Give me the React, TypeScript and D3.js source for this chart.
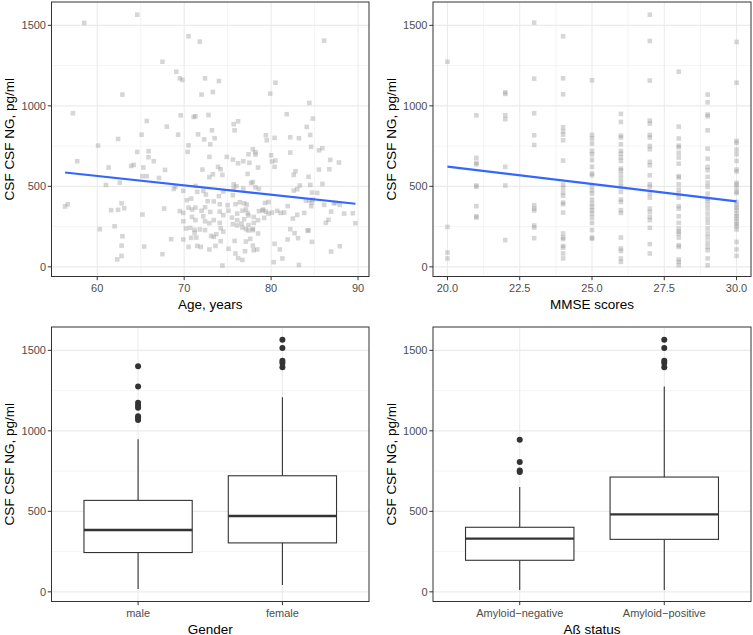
import React from 'react';
import * as d3 from 'd3';

// ---------- DATA ----------
// [age, CSF NG]
const ageData: [number, number][] = [
  [58.5,1515],[64.6,1566],[70.5,1432],[71.8,1399],[86.1,1405],[67.5,1274],[69.1,1212],[69.5,1171],[69.8,1161],
  [72.4,1171],[74.0,1154],[80.5,1144],[72.0,1070],[73.3,1086],[62.9,1070],[79.9,1076],[84.4,1018],[57.2,954],
  [71.3,935],[71.1,931],[72.8,943],[69.6,941],[65.7,906],[76.2,904],[75.7,886],[81.8,948],[84.8,921],[68.0,871],
  [84.1,869],[75.8,848],[73.2,848],[65.1,821],[69.3,821],[71.6,823],[72.3,792],[73.5,799],[73.0,761],[62.4,794],
  [79.4,817],[79.5,786],[80.4,801],[82.2,805],[83.2,799],[84.5,819],[60.1,753],[70.5,755],[77.9,730],[78.2,712],
  [78.2,697],[84.6,745],[85.9,737],[85.5,724],[80.0,693],[82.2,710],[64.6,714],[70.4,714],[65.9,718],[72.9,683],
  [74.9,683],[77.4,699],[65.9,681],[66.5,656],[57.7,656],[76.8,656],[75.6,666],[76.2,643],[77.5,646],[78.5,617],
  [80.1,654],[80.5,660],[86.8,664],[87.8,648],[86.7,606],[85.5,604],[80.4,621],[63.9,627],[64.2,633],[61.3,617],
  [65.3,617],[73.9,621],[74.2,606],[72.1,604],[67.8,602],[82.8,594],[82.6,571],[84.3,559],[74.4,571],[72.9,557],
  [73.3,575],[77.3,577],[65.2,563],[65.7,563],[67.1,552],[77.7,521],[77.9,526],[78.2,494],[85.9,515],[84.5,509],
  [83.3,505],[61.0,509],[62.6,523],[69.0,497],[68.8,484],[71.3,503],[72.2,472],[74.5,468],[75.7,484],[75.7,513],
  [76.0,501],[76.8,486],[78.6,484],[75.6,445],[82.6,474],[83.0,482],[84.7,461],[85.3,459],[72.5,449],[74.0,439],
  [69.9,472],[71.5,466],[70.8,424],[70.3,414],[72.7,408],[73.4,406],[74.1,389],[75.0,383],[75.9,389],[76.4,401],
  [76.9,395],[77.2,387],[79.3,397],[79.7,403],[84.0,412],[84.4,412],[84.6,377],[84.7,399],[84.8,418],[87.2,395],
  [87.4,397],[87.9,385],[86.1,385],[81.9,377],[56.6,389],[56.3,375],[61.6,352],[62.4,354],[63.1,364],[62.8,395],
  [67.7,362],[70.5,368],[70.9,356],[71.3,368],[72.0,348],[72.4,370],[73.0,341],[74.1,343],[75.1,348],[76.1,331],
  [76.7,348],[77.1,356],[77.3,333],[78.6,346],[79.0,350],[79.1,356],[79.4,343],[79.7,331],[80.1,337],[80.7,348],
  [81.1,335],[81.5,337],[83.0,323],[83.8,335],[86.9,343],[89.4,333],[88.4,331],[65.2,325],[69.5,346],[69.9,335],
  [74.5,321],[72.2,314],[75.5,306],[76.1,290],[76.9,296],[77.4,319],[78.0,310],[78.5,290],[79.2,304],[70.9,310],
  [71.3,290],[72.4,283],[73.4,290],[72.9,271],[74.1,273],[75.6,265],[76.1,257],[76.6,269],[77.4,259],[78.0,273],
  [69.9,283],[70.2,238],[70.7,242],[71.2,230],[71.8,232],[72.4,228],[74.2,240],[74.5,219],[76.7,244],[77.1,234],
  [77.4,226],[77.9,228],[82.2,234],[84.2,226],[86.3,273],[89.7,271],[86.6,292],[82.5,300],[60.3,234],[62.0,252],
  [62.9,190],[62.8,132],[62.8,68],[62.3,46],[65.4,126],[67.5,79],[68.5,172],[69.9,170],[70.5,124],[70.8,180],
  [71.2,211],[71.5,130],[71.9,124],[71.4,182],[73.1,192],[73.4,186],[72.9,108],[73.6,130],[75.1,112],[75.8,161],
  [75.9,83],[76.2,54],[76.7,43],[77.0,97],[77.1,157],[77.6,174],[77.9,132],[78.0,103],[78.4,108],[78.5,207],
  [77.9,236],[74.4,8],[80.3,29],[80.4,143],[81.0,108],[81.3,52],[81.9,170],[82.7,209],[83.1,178],[83.2,12],
  [84.7,155],[86.9,95],[87.9,128],[84.3,226],[74.2,159],[73.7,203]
];

// MMSE score -> CSF NG values
const mmseScores = [20, 21, 22, 23, 24, 25, 26, 27, 28, 29, 30];
const mmseValues: number[][] = [
  [1274, 248, 89, 52],
  [941, 677, 646, 637, 505, 497, 377, 314, 306],
  [1084, 1074, 941, 917, 621, 505, 166],
  [1517, 1169, 954, 817, 757, 383, 362, 350, 257, 244, 178],
  [1432, 1171, 1072, 867, 842, 821, 786, 660, 511, 490, 461, 441, 399, 389, 337, 207, 182, 172, 130, 120, 83, 52],
  [1159, 819, 797, 766, 720, 699, 664, 621, 579, 569, 501, 476, 455, 418, 393, 372, 352, 331, 306, 273, 228, 182, 174],
  [950, 900, 815, 803, 761, 720, 703, 679, 658, 610, 600, 575, 548, 521, 497, 466, 418, 403, 352, 335, 182, 114, 99, 52, 31],
  [1566, 1403, 1157, 908, 890, 819, 803, 751, 730, 652, 631, 569, 513, 497, 455, 430, 362, 341, 310, 290, 242, 141, 83],
  [1212, 871, 797, 753, 743, 708, 679, 641, 563, 555, 513, 480, 455, 430, 377, 362, 314, 273, 238, 219, 207, 182, 134, 124, 46, 31, 10],
  [1070, 1022, 946, 935, 848, 734, 672, 621, 600, 559, 523, 497, 455, 424, 414, 389, 362, 331, 300, 273, 238, 207, 182, 151, 124, 103, 52, 10],
  [1397, 1144, 782, 770, 728, 699, 658, 604, 592, 521, 511, 492, 466, 459, 403, 383, 368, 352, 331, 314, 300, 281, 265, 252, 232, 155, 108, 68]
];

// linear fits: [x, y] at ends of data range
const ageFit: [number, number][] = [[56.3, 586], [89.7, 392]];
const mmseFit: [number, number][] = [[20, 623], [30, 407]];

// Box plots
const genderCats = ['male', 'female'];
const genderBoxes = [
  { lower: 17, q1: 244, median: 384, q3: 568, upper: 948, outliers: [1401, 1275, 1174, 1157, 1143, 1091, 1081, 1068] },
  { lower: 43, q1: 304, median: 471, q3: 721, upper: 1209, outliers: [1566, 1514, 1436, 1421, 1395] }
];
const amyloidCats = ['Amyloid\u2212negative', 'Amyloid\u2212positive'];
const amyloidBoxes = [
  { lower: 12, q1: 196, median: 331, q3: 401, upper: 651, outliers: [944, 806, 754, 744] },
  { lower: 12, q1: 326, median: 481, q3: 713, upper: 1275, outliers: [1566, 1514, 1436, 1421, 1395] }
];

const yTicks = [0, 500, 1000, 1500];
const yMinor = [250, 750, 1250];
const ageTicks = [60, 70, 80, 90];
const ageMinor = [65, 75, 85];
const mmseTicks = [20, 22.5, 25, 27.5, 30];
const mmseMinor = [21.25, 23.75, 26.25, 28.75];

const yTitle = 'CSF CSF NG, pg/ml';

// ---------- LAYOUT ----------
const W = 753, H = 635;
const FONT = '"Liberation Sans", Arial, Helvetica, sans-serif';
const yDomain: [number, number] = [-60, 1645];
const colL: [number, number] = [51.5, 369];
const colR: [number, number] = [433, 751];
const rowT: [number, number] = [2, 276.5];
const rowB: [number, number] = [327, 601.5];

type Box = { lower: number; q1: number; median: number; q3: number; upper: number; outliers: number[] };

function Frame({ xr, yr, y, xTickPos, xTickLabels, xMinorPos, xTitle, children }: any) {
  const [x0, x1] = xr;
  const [y0, y1] = yr;
  return (
    <g>
      <rect x={x0} y={y0} width={x1 - x0} height={y1 - y0} fill="#fff" />
      {yMinor.map((v) => (
        <line key={'ym' + v} x1={x0} x2={x1} y1={y(v)} y2={y(v)} stroke="#ebebeb" strokeWidth={0.55} />
      ))}
      {xMinorPos.map((p: number, i: number) => (
        <line key={'xm' + i} x1={p} x2={p} y1={y0} y2={y1} stroke="#ebebeb" strokeWidth={0.55} />
      ))}
      {yTicks.map((v) => (
        <line key={'yg' + v} x1={x0} x2={x1} y1={y(v)} y2={y(v)} stroke="#ebebeb" strokeWidth={1.1} />
      ))}
      {xTickPos.map((p: number, i: number) => (
        <line key={'xg' + i} x1={p} x2={p} y1={y0} y2={y1} stroke="#ebebeb" strokeWidth={1.1} />
      ))}
      {children}
      <rect x={x0} y={y0} width={x1 - x0} height={y1 - y0} fill="none" stroke="#333" strokeWidth={1} />
      {yTicks.map((v) => (
        <g key={'yt' + v}>
          <line x1={x0 - 3.7} x2={x0} y1={y(v)} y2={y(v)} stroke="#333" strokeWidth={1} />
          <text x={x0 - 5.5} y={y(v)} dy="0.35em" textAnchor="end" fontSize={11} fill="#4d4d4d" fontFamily={FONT}>
            {v}
          </text>
        </g>
      ))}
      {xTickPos.map((p: number, i: number) => (
        <g key={'xt' + i}>
          <line x1={p} x2={p} y1={y1} y2={y1 + 3.7} stroke="#333" strokeWidth={1} />
          <text x={p} y={y1 + 15} textAnchor="middle" fontSize={11} fill="#4d4d4d" fontFamily={FONT}>
            {xTickLabels[i]}
          </text>
        </g>
      ))}
      <text x={(x0 + x1) / 2} y={y1 + 32} textAnchor="middle" fontSize={13.5} fill="#000" fontFamily={FONT}>
        {xTitle}
      </text>
      <text
        transform={`translate(${x0 - 37.5},${(y0 + y1) / 2}) rotate(-90)`}
        textAnchor="middle"
        fontSize={13.5}
        fill="#000"
        fontFamily={FONT}
      >
        {yTitle}
      </text>
    </g>
  );
}

function ScatterPanel({ xr, yr, xDomain, ticks, minor, fmt, points, fit, xTitle }: any) {
  const x = d3.scaleLinear().domain(xDomain).range(xr);
  const y = d3.scaleLinear().domain(yDomain).range([yr[1], yr[0]]);
  const line = d3.line<[number, number]>().x((d) => x(d[0])).y((d) => y(d[1]));
  const s = 4.6;
  return (
    <Frame
      xr={xr}
      yr={yr}
      y={y}
      xTickPos={ticks.map((t: number) => x(t))}
      xTickLabels={ticks.map(fmt)}
      xMinorPos={minor.map((t: number) => x(t))}
      xTitle={xTitle}
    >
      {points.map((p: [number, number], i: number) => (
        <rect key={i} x={x(p[0]) - s / 2} y={y(p[1]) - s / 2} width={s} height={s} fill="#999" fillOpacity={0.4} />
      ))}
      <path d={line(fit) || ''} stroke="#3366ff" strokeWidth={2.2} fill="none" />
    </Frame>
  );
}

function BoxPanel({ xr, yr, cats, boxes, xTitle }: any) {
  // discrete axis: positions 1..n within [0.4, n+0.6]
  const xl = d3.scaleLinear().domain([0.4, cats.length + 0.6]).range(xr);
  const y = d3.scaleLinear().domain(yDomain).range([yr[1], yr[0]]);
  const bw = xl(1.375) - xl(0.625);
  return (
    <Frame
      xr={xr}
      yr={yr}
      y={y}
      xTickPos={cats.map((_: string, i: number) => xl(i + 1))}
      xTickLabels={cats}
      xMinorPos={[]}
      xTitle={xTitle}
    >
      {boxes.map((b: Box, i: number) => {
        const cx = xl(i + 1);
        return (
          <g key={i}>
            <line x1={cx} x2={cx} y1={y(b.upper)} y2={y(b.q3)} stroke="#333" strokeWidth={1.1} />
            <line x1={cx} x2={cx} y1={y(b.q1)} y2={y(b.lower)} stroke="#333" strokeWidth={1.1} />
            <rect x={cx - bw / 2} y={y(b.q3)} width={bw} height={y(b.q1) - y(b.q3)} fill="#fff" stroke="#333" strokeWidth={1.1} />
            <line x1={cx - bw / 2} x2={cx + bw / 2} y1={y(b.median)} y2={y(b.median)} stroke="#333" strokeWidth={2.3} />
            {b.outliers.map((o, j) => (
              <circle key={j} cx={cx} cy={y(o)} r={3} fill="#333" />
            ))}
          </g>
        );
      })}
    </Frame>
  );
}

export default function App() {
  const mmsePoints: [number, number][] = [];
  mmseScores.forEach((s, i) => mmseValues[i].forEach((v) => mmsePoints.push([s, v])));
  return (
    <svg width={W} height={H} style={{ position: 'absolute', left: 0, top: 0, display: 'block', background: '#fff' }}>
      <rect width={W} height={H} fill="#fff" />
      <ScatterPanel
        xr={colL}
        yr={rowT}
        xDomain={[54.74, 91.26]}
        ticks={ageTicks}
        minor={ageMinor}
        fmt={(t: number) => String(t)}
        points={ageData}
        fit={ageFit}
        xTitle="Age, years"
      />
      <ScatterPanel
        xr={colR}
        yr={rowT}
        xDomain={[19.5, 30.5]}
        ticks={mmseTicks}
        minor={mmseMinor}
        fmt={(t: number) => t.toFixed(1)}
        points={mmsePoints}
        fit={mmseFit}
        xTitle="MMSE scores"
      />
      <BoxPanel xr={colL} yr={rowB} cats={genderCats} boxes={genderBoxes} xTitle="Gender" />
      <BoxPanel xr={colR} yr={rowB} cats={amyloidCats} boxes={amyloidBoxes} xTitle={'A\u00df status'} />
    </svg>
  );
}
